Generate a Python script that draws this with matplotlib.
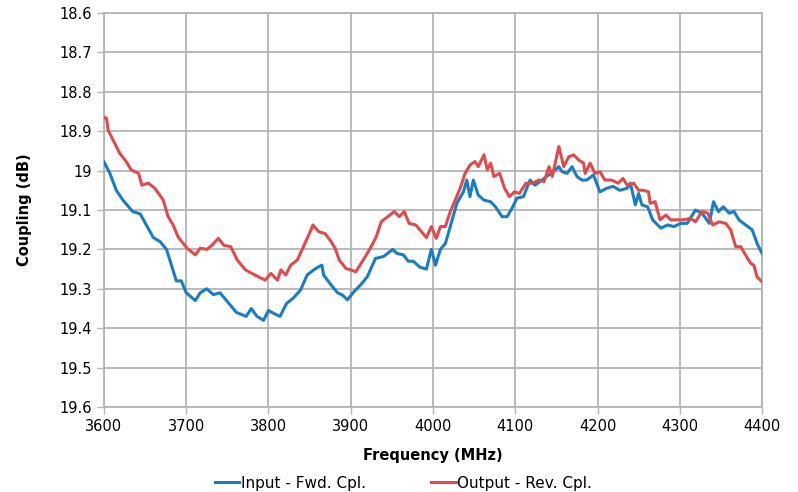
import matplotlib
matplotlib.use("Agg")
import matplotlib.pyplot as plt

# Input - Fwd. Cpl.
fwd_freq = [3600, 3607, 3615, 3623, 3635, 3644, 3652, 3660, 3668, 3676, 3682, 3688, 3694,
            3700, 3711, 3717, 3725, 3733, 3741, 3749, 3761, 3773, 3779, 3786, 3794, 3800,
            3806, 3814, 3822, 3830, 3839, 3847, 3855, 3861, 3865, 3867, 3876, 3884, 3890,
            3896, 3904, 3912, 3920, 3930, 3940, 3951, 3956, 3964, 3970, 3976, 3984, 3992,
            3998, 4003, 4009, 4015, 4021, 4029, 4037, 4041, 4045, 4049, 4055, 4062, 4070,
            4076, 4084, 4090, 4096, 4102, 4110, 4118, 4124, 4130, 4138, 4146, 4153, 4157,
            4163, 4169, 4175, 4181, 4187, 4195, 4203, 4211, 4219, 4227, 4236, 4240, 4246,
            4250, 4254, 4261, 4267, 4277, 4285, 4293, 4301, 4309, 4319, 4327, 4336, 4341,
            4347, 4353, 4360, 4366, 4372, 4380, 4388, 4394, 4400]
fwd_cpl = [18.978, 19.006, 19.05, 19.075, 19.104, 19.11, 19.14, 19.17, 19.18, 19.2, 19.24, 19.28, 19.28,
           19.31, 19.33, 19.31, 19.30, 19.315, 19.31, 19.33, 19.36, 19.37, 19.35, 19.37, 19.38, 19.355,
           19.362, 19.37, 19.337, 19.324, 19.303, 19.265, 19.252, 19.244, 19.24, 19.265, 19.29, 19.31, 19.316,
           19.328, 19.307, 19.29, 19.27, 19.223, 19.218, 19.20, 19.21, 19.214, 19.23, 19.23, 19.245, 19.25,
           19.20, 19.24, 19.20, 19.185, 19.142, 19.083, 19.054, 19.024, 19.066, 19.024, 19.062, 19.075, 19.079,
           19.092, 19.117, 19.117, 19.096, 19.07, 19.066, 19.024, 19.037, 19.028, 19.015, 19.003, 18.99, 19.003,
           19.007, 18.99, 19.015, 19.024, 19.024, 19.011, 19.054, 19.045, 19.04, 19.05, 19.045, 19.032, 19.087,
           19.058, 19.087, 19.092, 19.125, 19.146, 19.138, 19.142, 19.134, 19.134, 19.10, 19.108, 19.134, 19.079,
           19.104, 19.092, 19.108, 19.104, 19.125, 19.138, 19.15, 19.185, 19.21]

# Output - Rev. Cpl.
rev_freq = [3600, 3603, 3605, 3611, 3619, 3627, 3633, 3642, 3646, 3654, 3662, 3672, 3678, 3684,
            3690, 3701, 3711, 3717, 3725, 3731, 3739, 3746, 3754, 3762, 3772, 3780, 3788, 3796,
            3803, 3811, 3815, 3821, 3827, 3835, 3841, 3849, 3854, 3861, 3869, 3876, 3881, 3886,
            3894, 3900, 3906, 3914, 3923, 3931, 3937, 3945, 3953, 3959, 3965, 3971, 3979, 3986,
            3992, 3998, 4004, 4009, 4015, 4021, 4027, 4033, 4039, 4045, 4051, 4055, 4062, 4066,
            4070, 4074, 4081, 4087, 4093, 4099, 4105, 4113, 4121, 4129, 4135, 4141, 4145, 4153,
            4159, 4165, 4171, 4177, 4183, 4185, 4191, 4197, 4203, 4209, 4217, 4225, 4231, 4236,
            4244, 4250, 4256, 4262, 4264, 4270, 4276, 4283, 4289, 4297, 4305, 4313, 4319, 4327,
            4334, 4340, 4348, 4356, 4362, 4368, 4374, 4380, 4386, 4390, 4394, 4400]
rev_cpl = [18.865, 18.867, 18.897, 18.922, 18.956, 18.977, 18.998, 19.007, 19.037, 19.032, 19.045, 19.075, 19.117, 19.138,
           19.168, 19.197, 19.214, 19.197, 19.20, 19.19, 19.172, 19.19, 19.193, 19.227, 19.252, 19.261, 19.27, 19.278,
           19.261, 19.278, 19.252, 19.265, 19.24, 19.227, 19.20, 19.163, 19.138, 19.155, 19.16, 19.18, 19.197, 19.227,
           19.248, 19.252, 19.257, 19.231, 19.20, 19.168, 19.13, 19.117, 19.104, 19.117, 19.104, 19.134, 19.138, 19.155,
           19.17, 19.142, 19.172, 19.142, 19.142, 19.104, 19.075, 19.045, 19.007, 18.986, 18.977, 18.99, 18.96, 18.998,
           18.981, 19.015, 19.007, 19.045, 19.066, 19.054, 19.058, 19.032, 19.032, 19.024, 19.028, 18.99, 19.015, 18.939,
           18.99, 18.965, 18.96, 18.973, 18.981, 19.007, 18.981, 19.007, 19.003, 19.024, 19.024, 19.032, 19.02, 19.037,
           19.032, 19.05, 19.05, 19.054, 19.083, 19.079, 19.125, 19.113, 19.125, 19.125, 19.125, 19.121, 19.13, 19.104,
           19.108, 19.138, 19.13, 19.134, 19.151, 19.193, 19.193, 19.214, 19.235, 19.24, 19.27, 19.282]

x_ticks = [3600, 3700, 3800, 3900, 4000, 4100, 4200, 4300, 4400]
y_ticks = [18.6, 18.7, 18.8, 18.9, 19.0, 19.1, 19.2, 19.3, 19.4, 19.5, 19.6]
y_labels = ["18.6", "18.7", "18.8", "18.9", "19", "19.1", "19.2", "19.3", "19.4", "19.5", "19.6"]

fig = plt.figure(figsize=(7.98, 4.92), dpi=100)
ax = fig.add_axes([0.1303, 0.1728, 0.8246, 0.8008])

ax.plot(fwd_freq, fwd_cpl, color="#1a7dc1", lw=2.2, label="Input - Fwd. Cpl.", zorder=3)
ax.plot(rev_freq, rev_cpl, color="#e04a4d", lw=2.2, label="Output - Rev. Cpl.", zorder=3)

ax.set_xlim(3600, 4400)
ax.set_ylim(19.6, 18.6)
ax.set_xticks(x_ticks)
ax.set_yticks(y_ticks)
ax.set_yticklabels(y_labels)
ax.grid(True, color="#b4b4b4", lw=1.3)
for s in ax.spines.values():
    s.set_color("#b4b4b4")
    s.set_linewidth(1.3)
ax.tick_params(colors="#b4b4b4", labelcolor="black", labelsize=10.5, length=5, width=1)

ax.set_xlabel("Frequency (MHz)", fontsize=10.5, fontweight="bold", labelpad=10)
ax.set_ylabel("Coupling (dB)", fontsize=10.5, fontweight="bold", labelpad=20)

ax.legend(loc="center", bbox_to_anchor=(0.455, -0.193), ncol=2, frameon=False,
          fontsize=11, handlelength=1.6, handletextpad=0.1, columnspacing=4.3,
          borderpad=0.1)

fig.savefig("out.png", dpi=100)
